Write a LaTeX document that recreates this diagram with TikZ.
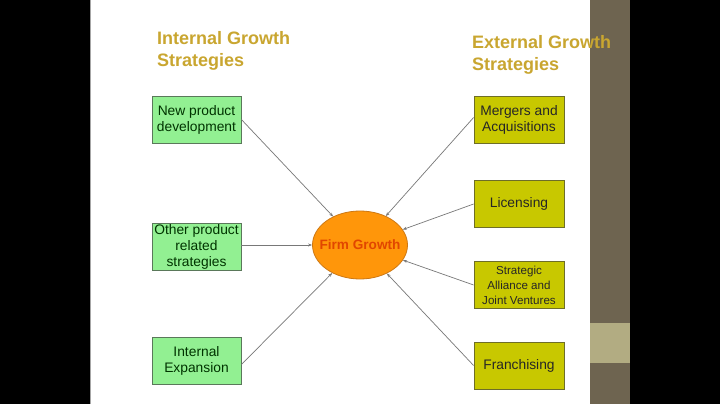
\documentclass[tikz,border=0pt]{standalone}
\usepackage{fontspec}
\setmainfont{Liberation Sans}
\usetikzlibrary{shapes.geometric,arrows.meta}
\definecolor{gold}{RGB}{201,166,48}
\definecolor{boxgreen}{RGB}{146,240,146}
\definecolor{greenline}{RGB}{90,120,90}
\definecolor{boxyellow}{RGB}{200,200,0}
\definecolor{yellowline}{RGB}{110,110,40}
\definecolor{firmorange}{RGB}{255,150,10}
\definecolor{firmline}{RGB}{205,120,20}
\definecolor{firmtext}{RGB}{225,70,0}
\definecolor{barbrown}{RGB}{110,100,80}
\definecolor{barlight}{RGB}{178,172,130}
\definecolor{conn}{RGB}{120,120,120}
\tikzset{
  title/.style={anchor=north west, inner sep=0pt, align=left, text=gold,
    font=\fontsize{18}{22}\selectfont\bfseries},
  greenbox/.style={draw=greenline, fill=boxgreen, line width=0.8pt,
    minimum width=89pt, minimum height=47pt, inner sep=1pt, align=center,
    text=black!80!green, font=\fontsize{13.8}{16}\selectfont},
  yellowbox/.style={draw=yellowline, fill=boxyellow, line width=0.8pt,
    minimum width=90pt, minimum height=47pt, inner sep=1pt, align=center,
    text=black!85, font=\fontsize{13.8}{16}\selectfont},
  conn/.style={draw=conn, line width=0.7pt, -{Stealth[length=4pt,width=3pt]}}
}
\begin{document}
\begin{tikzpicture}[x=1pt,y=-1pt]
\useasboundingbox (0,0) rectangle (720,404);
\fill[black] (0,0) rectangle (720,404);
\fill[white] (90,0) rectangle (590,404);
\draw[gray!70, line width=0.8pt] (90.5,0) -- (90.5,404);
\fill[barbrown] (590,0) rectangle (630,404);
\fill[barlight] (590,323) rectangle (630,363);

\node[title] (tin) at (157,31) {Internal Growth\\Strategies};
\node[title] (tex) at (472,35) {External Growth\\Strategies};

\node[greenbox] (np) at (196.5,119.5) {New product\\development};
\node[greenbox] (op) at (196.5,246.5) {Other product\\related\\strategies};
\node[greenbox] (ie) at (196.5,360.5) {Internal\\Expansion};

\node[yellowbox] (ma) at (519,119.5) {Mergers and\\Acquisitions};
\node[yellowbox] (li) at (519,204) {Licensing};
\node[yellowbox, font=\fontsize{11.6}{15}\selectfont] (sa) at (519,285) {Strategic\\Alliance and\\Joint Ventures};
\node[yellowbox] (fr) at (519,365.5) {Franchising};

\node[ellipse, draw=firmline, fill=firmorange, line width=0.8pt,
  minimum width=95pt, minimum height=68pt, inner sep=0pt,
  text=firmtext, font=\fontsize{13.6}{16}\selectfont\bfseries] (fg) at (360,245) {\makebox[0pt]{Firm Growth}};

\draw[conn] (np.east) -- (fg);
\draw[conn] (op.east |- fg) -- (fg.west);
\draw[conn] ([yshift=-4pt]ie.east) -- (fg);
\draw[conn] ([yshift=2pt]ma.west) -- (fg);
\draw[conn] (li.west) -- (fg);
\draw[conn] (sa.west) -- (fg);
\draw[conn] (fr.west) -- (fg);
\end{tikzpicture}
\end{document}
